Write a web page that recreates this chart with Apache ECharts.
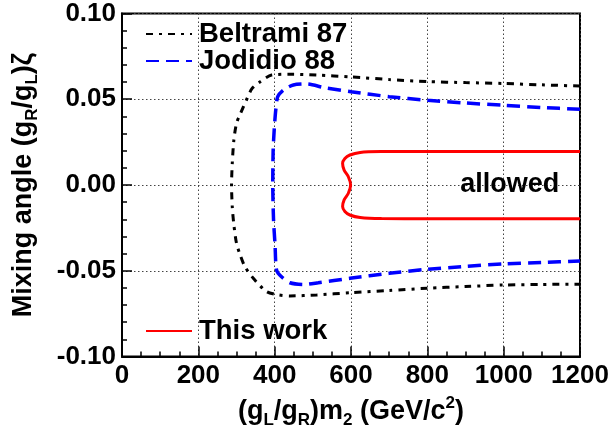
<!DOCTYPE html>
<html>
<head>
<meta charset="utf-8">
<script src="https://cdn.jsdelivr.net/npm/echarts@6/dist/echarts.min.js"></script>
<style>
html,body{margin:0;padding:0;background:#fff;}
#chart{width:613px;height:437px;}
</style>
</head>
<body>
<div id="chart"></div>
<script>
// ---- data ----
var xTicks = [0, 200, 400, 600, 800, 1000, 1200];
var yTicks = [-0.10, -0.05, 0.00, 0.05, 0.10];

var beltrami = [
  [1200,0.0577],[1100,0.0584],[1000,0.0592],[900,0.0597],[800,0.0603],[700,0.0615],
  [600,0.0630],[510,0.0641],[440,0.0646],[392,0.0641],[362,0.0602],[340,0.0560],
  [325,0.0490],[311,0.0420],[300,0.0360],[293,0.0260],[289,0.0130],[287,0.0000],
  [289,-0.0130],[293,-0.0230],[300,-0.0340],[310,-0.0410],[322,-0.0476],[344,-0.0544],
  [379,-0.0622],[410,-0.0641],[440,-0.0647],[510,-0.0641],[600,-0.0628],[700,-0.0615],
  [800,-0.0602],[900,-0.0592],[1000,-0.0583],[1100,-0.0580],[1200,-0.0578]
];

var jodidio = [
  [1200,0.0441],[1100,0.0452],[1000,0.0465],[900,0.0478],[800,0.0494],[700,0.0515],
  [600,0.0544],[530,0.0568],[484,0.0589],[449,0.0583],[423,0.0554],[408,0.0515],
  [403,0.0440],[399,0.0330],[396,0.0200],[395,0.0000],[397,-0.0200],[401,-0.0350],
  [405,-0.0496],[418,-0.0535],[440,-0.0570],[475,-0.0580],[514,-0.0570],[597,-0.0544],
  [700,-0.0515],[798,-0.0492],[900,-0.0475],[1000,-0.0460],[1100,-0.0452],[1200,-0.0443]
];

var thisWork = [
  [1200,0.0196],[1000,0.0196],[800,0.0196],[680,0.0195],[624,0.0190],[597,0.0175],
  [584,0.0155],[578,0.0126],[582,0.0087],[593,0.0048],[599,0.0000],[593,-0.0048],
  [582,-0.0087],[578,-0.0126],[584,-0.0155],[597,-0.0175],[624,-0.0190],[680,-0.0196],
  [800,-0.0197],[1000,-0.0197],[1200,-0.0197]
];

var seriesNames = ['Beltrami 87', 'Jodidio 88', 'This work'];
var annotation = { text: 'allowed', at: [1016, 0.0] };

// ---- chart ----
var FONT = 'Liberation Sans';
var chart = echarts.init(document.getElementById('chart'), null, {renderer: 'canvas'});

var richName = {
  m: {fontFamily: FONT, fontSize: 27, fontWeight: 'bold', color: '#000', lineHeight: 34, verticalAlign: 'middle'},
  sub: {fontFamily: FONT, fontSize: 17, fontWeight: 'bold', color: '#000', lineHeight: 15, verticalAlign: 'bottom'},
  sup: {fontFamily: FONT, fontSize: 17, fontWeight: 'bold', color: '#000', lineHeight: 15, verticalAlign: 'top'}
};

var legendText = {fontFamily: FONT, fontSize: 27.5, fontWeight: 'bold', color: '#000', lineHeight: 27, padding: [0,0,0,2]};

function oneLegend(name, top) {
  return {
    data: [name], orient: 'vertical', left: 145, top: top, padding: 0,
    itemWidth: 46, itemHeight: 14, itemStyle: {opacity: 0},
    textStyle: legendText, selectedMode: false
  };
}

var option = {
  animation: false,
  backgroundColor: '#fff',
  grid: {left: 122, right: 33, top: 13.5, bottom: 80.5, show: true, borderColor: '#000', borderWidth: 2, backgroundColor: 'transparent'},
  legend: [
    oneLegend(seriesNames[0], 20),
    oneLegend(seriesNames[1], 47),
    oneLegend(seriesNames[2], 317)
  ],
  xAxis: {
    type: 'value', min: xTicks[0], max: xTicks[xTicks.length - 1], interval: 200,
    name: '{m|(g}{sub|L}{m|/g}{sub|R}{m|)m}{sub|2}{m| (GeV/c}{sup|2}{m|)}',
    nameLocation: 'middle', nameGap: 38,
    nameTextStyle: {rich: richName},
    axisLine: {show: true, onZero: false, lineStyle: {color: '#000', width: 2}},
    axisTick: {show: true, inside: true, length: 10, lineStyle: {color: '#000', width: 1.5}},
    minorTick: {show: true, splitNumber: 4, length: 5, lineStyle: {color: '#000', width: 1.5}},
    axisLabel: {fontFamily: FONT, fontSize: 26, fontWeight: 'bold', color: '#000', margin: 6,
      formatter: function (v) { return String(v); }},
    splitLine: {show: true, lineStyle: {color: '#444', width: 1, type: [1.5, 2.5]}}
  },
  yAxis: {
    type: 'value', min: yTicks[0], max: yTicks[yTicks.length - 1], interval: 0.05,
    name: '{m|Mixing angle (g}{sub|R}{m|/g}{sub|L}{m|)ζ}',
    nameLocation: 'middle', nameGap: 81, nameRotate: 90,
    nameTextStyle: {rich: richName},
    axisLine: {show: true, onZero: false, lineStyle: {color: '#000', width: 2}},
    axisTick: {show: true, inside: true, length: 10, lineStyle: {color: '#000', width: 1.5}},
    minorTick: {show: true, splitNumber: 5, length: 5, lineStyle: {color: '#000', width: 1.5}},
    axisLabel: {fontFamily: FONT, fontSize: 26, fontWeight: 'bold', color: '#000', margin: 6,
      padding: [4, 0, 0, 0],
      formatter: function (v) { return v.toFixed(2); }},
    splitLine: {show: true, lineStyle: {color: '#444', width: 1, type: [1.5, 2.5]}}
  },
  series: [
    {
      name: seriesNames[0], type: 'line', data: beltrami, showSymbol: false, symbol: 'none',
      smooth: 0.25, color: '#000',
      lineStyle: {color: '#000', width: 3, type: [7, 6, 3, 6]}
    },
    {
      name: seriesNames[1], type: 'line', data: jodidio, showSymbol: false, symbol: 'none',
      smooth: 0.25, color: '#0000ff',
      lineStyle: {color: '#0000ff', width: 3.5, type: [13, 7]}
    },
    {
      name: seriesNames[2], type: 'line', data: thisWork, showSymbol: false, symbol: 'none',
      smooth: 0.3, color: '#ff0000',
      lineStyle: {color: '#ff0000', width: 3, type: 'solid'}
    },
    {
      name: 'annotation', type: 'scatter', data: [annotation.at], symbolSize: 0, silent: true,
      itemStyle: {opacity: 1},
      label: {show: true, position: 'inside', formatter: annotation.text,
        fontFamily: FONT, fontSize: 27, fontWeight: 'bold', color: '#000'}
    }
  ]
};
chart.setOption(option);
</script>
</body>
</html>
